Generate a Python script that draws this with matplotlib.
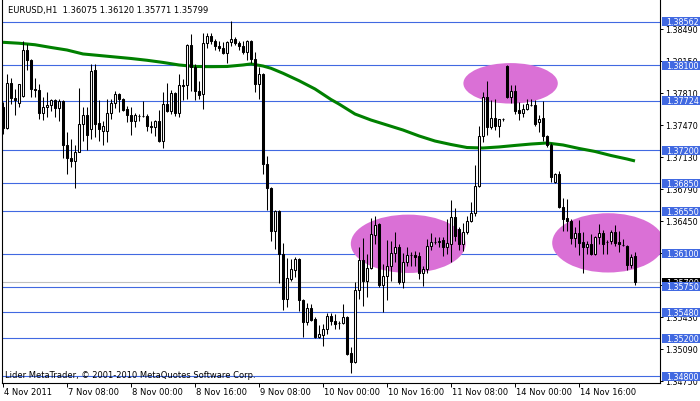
import matplotlib
matplotlib.use('Agg')
import matplotlib.pyplot as plt
from matplotlib.patches import Ellipse, Rectangle
from matplotlib.transforms import blended_transform_factory
import numpy as np

# EURUSD H1 bars, 4 Nov 2011 16:00 onwards
opens = [1.3766, 1.3744, 1.3791, 1.3775, 1.3770, 1.3778, 1.3826, 1.3816, 1.3785, 1.3784,
         1.3759, 1.3766, 1.3768, 1.3773, 1.3765, 1.3772, 1.3725, 1.3712, 1.3708, 1.3718,
         1.3748, 1.3757, 1.3742, 1.3805, 1.3749, 1.3740, 1.3740, 1.3760, 1.3770, 1.3780,
         1.3774, 1.3764, 1.3757, 1.3751, 1.3756, 1.3756, 1.3756, 1.3746, 1.3745, 1.3751,
         1.3730, 1.3769, 1.3762, 1.3781, 1.3760, 1.3789, 1.3789, 1.3832, 1.3808, 1.3783,
         1.3780, 1.3834, 1.3841, 1.3836, 1.3831, 1.3829, 1.3823, 1.3835, 1.3838, 1.3834,
         1.3831, 1.3824, 1.3836, 1.3817, 1.3790, 1.3801, 1.3705, 1.3680, 1.3634, 1.3655,
         1.3610, 1.3562, 1.3583, 1.3593, 1.3604, 1.3561, 1.3537, 1.3552, 1.3541, 1.3522,
         1.3524, 1.3530, 1.3544, 1.3538, 1.3536, 1.3536, 1.3543, 1.3504, 1.3495, 1.3571,
         1.3603, 1.3581, 1.3595, 1.3630, 1.3642, 1.3577, 1.3586, 1.3597, 1.3611, 1.3617,
         1.3580, 1.3601, 1.3609, 1.3609, 1.3608, 1.3589, 1.3594, 1.3618, 1.3622, 1.3622,
         1.3625, 1.3617, 1.3620, 1.3649, 1.3636, 1.3620, 1.3633, 1.3645, 1.3653, 1.3682,
         1.3735, 1.3776, 1.3745, 1.3754, 1.3746, 1.3753, 1.3809, 1.3776, 1.3783, 1.3763,
         1.3759, 1.3764, 1.3768, 1.3768, 1.3750, 1.3754, 1.3735, 1.3726, 1.3686, 1.3695,
         1.3660, 1.3648, 1.3645, 1.3627, 1.3632, 1.3622, 1.3617, 1.3620, 1.3610, 1.3628,
         1.3632, 1.3622, 1.3623, 1.3633, 1.3622, 1.3619, 1.3618, 1.3598, 1.36075]
highs = [1.3771, 1.3801, 1.3797, 1.3785, 1.3790, 1.3836, 1.3833, 1.3817, 1.3797, 1.3790,
         1.3776, 1.3782, 1.3774, 1.3774, 1.3774, 1.3773, 1.3739, 1.3732, 1.3725, 1.3786,
         1.3766, 1.3766, 1.3812, 1.3812, 1.3773, 1.3751, 1.3774, 1.3774, 1.3783, 1.3781,
         1.3775, 1.3767, 1.3766, 1.3760, 1.3758, 1.3772, 1.3758, 1.3751, 1.3752, 1.3763,
         1.3782, 1.3791, 1.3784, 1.3782, 1.3801, 1.3796, 1.3833, 1.3843, 1.3812, 1.3794,
         1.3845, 1.3845, 1.3844, 1.3838, 1.3836, 1.3835, 1.3836, 1.3857, 1.3840, 1.3836,
         1.3836, 1.3837, 1.3837, 1.3824, 1.3808, 1.3802, 1.3714, 1.3681, 1.3656, 1.3656,
         1.3621, 1.3605, 1.3604, 1.3606, 1.3605, 1.3562, 1.3558, 1.3557, 1.3543, 1.3534,
         1.3535, 1.3547, 1.3547, 1.3546, 1.3539, 1.3557, 1.3544, 1.3511, 1.3580, 1.3617,
         1.3627, 1.3610, 1.3648, 1.3650, 1.3643, 1.3599, 1.3625, 1.3624, 1.3633, 1.3620,
         1.3611, 1.3617, 1.3612, 1.3613, 1.3612, 1.3597, 1.3626, 1.3632, 1.3628, 1.3628,
         1.3628, 1.3647, 1.3667, 1.3659, 1.3638, 1.3643, 1.3650, 1.3665, 1.3704, 1.3746,
         1.3782, 1.3794, 1.3773, 1.3774, 1.3753, 1.3754, 1.3810, 1.3789, 1.3789, 1.3771,
         1.3769, 1.3774, 1.3774, 1.3773, 1.3757, 1.3772, 1.3736, 1.3728, 1.3696, 1.3698,
         1.3669, 1.3668, 1.3647, 1.3638, 1.3646, 1.3633, 1.3623, 1.3631, 1.3629, 1.3642,
         1.3635, 1.3625, 1.3635, 1.3640, 1.3634, 1.3626, 1.3619, 1.3610, 1.36120]
lows = [1.3737, 1.3743, 1.3769, 1.3757, 1.3766, 1.3776, 1.3805, 1.3776, 1.3776, 1.3753,
        1.3752, 1.3755, 1.3762, 1.3755, 1.3751, 1.3712, 1.3695, 1.3702, 1.3680, 1.3718,
        1.3730, 1.3720, 1.3732, 1.3734, 1.3730, 1.3725, 1.3729, 1.3753, 1.3765, 1.3761,
        1.3762, 1.3750, 1.3736, 1.3745, 1.3751, 1.3755, 1.3740, 1.3738, 1.3735, 1.3729,
        1.3722, 1.3761, 1.3758, 1.3756, 1.3755, 1.3773, 1.3774, 1.3783, 1.3773, 1.3774,
        1.3764, 1.3829, 1.3833, 1.3826, 1.3825, 1.3822, 1.3813, 1.3831, 1.3832, 1.3826,
        1.3822, 1.3816, 1.3813, 1.3782, 1.3774, 1.3695, 1.3656, 1.3624, 1.3615, 1.3579,
        1.3550, 1.3553, 1.3581, 1.3585, 1.3549, 1.3522, 1.3534, 1.3538, 1.3520, 1.3520,
        1.3512, 1.3525, 1.3534, 1.3530, 1.3530, 1.3535, 1.3502, 1.3483, 1.3494, 1.3562,
        1.3554, 1.3564, 1.3594, 1.3620, 1.3575, 1.3548, 1.3561, 1.3581, 1.3601, 1.3578,
        1.3574, 1.3597, 1.3597, 1.3597, 1.3583, 1.3576, 1.3590, 1.3614, 1.3620, 1.3617,
        1.3608, 1.3610, 1.3601, 1.3624, 1.3614, 1.3613, 1.3631, 1.3644, 1.3650, 1.3681,
        1.3729, 1.3736, 1.3742, 1.3741, 1.3734, 1.3751, 1.3775, 1.3770, 1.3758, 1.3752,
        1.3755, 1.3763, 1.3767, 1.3746, 1.3739, 1.3730, 1.3723, 1.3686, 1.3685, 1.3659,
        1.3634, 1.3634, 1.3620, 1.3617, 1.3609, 1.3590, 1.3610, 1.3609, 1.3609, 1.3620,
        1.3610, 1.3610, 1.3620, 1.3618, 1.3612, 1.3618, 1.3593, 1.3595, 1.35771]
closes = [1.3744, 1.3791, 1.3775, 1.3773, 1.3790, 1.3826, 1.3816, 1.3785, 1.3784, 1.3759,
          1.3766, 1.3768, 1.3773, 1.3765, 1.3772, 1.3725, 1.3712, 1.3708, 1.3718, 1.3748,
          1.3757, 1.3736, 1.3804, 1.3748, 1.3742, 1.3746, 1.3760, 1.3770, 1.3780, 1.3774,
          1.3763, 1.3757, 1.3751, 1.3757, 1.3756, 1.3756, 1.3746, 1.3745, 1.3751, 1.3730,
          1.3769, 1.3762, 1.3781, 1.3760, 1.3789, 1.3788, 1.3832, 1.3808, 1.3783, 1.3779,
          1.3834, 1.3841, 1.3836, 1.3831, 1.3829, 1.3823, 1.3835, 1.3838, 1.3834, 1.3831,
          1.3824, 1.3836, 1.3817, 1.3790, 1.3801, 1.3705, 1.3680, 1.3634, 1.3655, 1.3610,
          1.3562, 1.3584, 1.3594, 1.3604, 1.3561, 1.3537, 1.3552, 1.3540, 1.3522, 1.3525,
          1.3530, 1.3544, 1.3538, 1.3535, 1.3536, 1.3543, 1.3503, 1.3495, 1.3571, 1.3603,
          1.3581, 1.3595, 1.3631, 1.3641, 1.3577, 1.3586, 1.3597, 1.3611, 1.3617, 1.3580,
          1.3601, 1.3609, 1.3609, 1.3607, 1.3589, 1.3594, 1.3618, 1.3622, 1.3622, 1.3624,
          1.3617, 1.3621, 1.3649, 1.3629, 1.3620, 1.3633, 1.3645, 1.3653, 1.3682, 1.3735,
          1.3776, 1.3745, 1.3754, 1.3746, 1.3753, 1.3753, 1.3776, 1.3783, 1.3762, 1.3759,
          1.3764, 1.3769, 1.3768, 1.3748, 1.3753, 1.3735, 1.3726, 1.3691, 1.3695, 1.3660,
          1.3647, 1.3645, 1.3627, 1.3632, 1.3621, 1.3617, 1.3620, 1.3610, 1.3628, 1.3632,
          1.3620, 1.3622, 1.3633, 1.3621, 1.3620, 1.3619, 1.3598, 1.3607, 1.35799]

# moving average, read every few bars
ma_bars = [0, 4, 8, 12, 16, 20, 24, 28, 32, 36, 40, 44, 48, 52, 56, 60, 62, 65, 67, 70,
           74, 78, 82, 84, 88, 92, 96, 100, 104, 108, 112, 116, 120, 124, 128, 132, 136,
           140, 144, 148, 152, 156, 158]
ma_vals = [1.38346, 1.38336, 1.38320, 1.38291, 1.38264, 1.38222, 1.38206, 1.38190, 1.38174,
           1.38155, 1.38132, 1.38105, 1.38089, 1.38087, 1.38089, 1.38105, 1.38116, 1.38094,
           1.38070, 1.38017, 1.37938, 1.37850, 1.37738, 1.37690, 1.37584, 1.37520, 1.37467,
           1.37414, 1.37351, 1.37297, 1.37260, 1.37228, 1.37223, 1.37234, 1.37250, 1.37265,
           1.37276, 1.37255, 1.37218, 1.37186, 1.37143, 1.37106, 1.37085]

levels = [1.38562, 1.38100, 1.37724, 1.37200, 1.36850, 1.36550, 1.36100, 1.35750,
          1.35480, 1.35200, 1.34800]
bid = 1.35799
price_ticks = [1.38490, 1.38150, 1.37810, 1.37470, 1.37130, 1.36790, 1.36450, 1.36110,
               1.35770, 1.35430, 1.35090, 1.34750]
time_ticks = [0, 16, 32, 48, 64, 80, 96, 112, 128, 144]
time_labels = ['4 Nov 2011', '7 Nov 08:00', '8 Nov 00:00', '8 Nov 16:00', '9 Nov 08:00',
               '10 Nov 00:00', '10 Nov 16:00', '11 Nov 08:00', '14 Nov 00:00', '14 Nov 16:00']

# ellipses: (bar centre, price centre, width in bars, height in price)
ellipses = [(126.9, 1.37910, 23.6, 0.00430),
            (101.3, 1.36205, 28.7, 0.00620),
            (151.3, 1.36215, 28.0, 0.00630)]

plt.rcParams['font.family'] = 'DejaVu Sans'
fs = 6.0
fs_scale = 5.8
blue = '#4169E1'

fig = plt.figure(figsize=(7, 4.02), dpi=100)
ax = fig.add_axes([2 / 700, 18 / 402, 658 / 700, 384 / 402])
ax.set_xlim(-0.25, 164.25)
ax.set_ylim(1.34726, 1.38806)
px = (1.38806 - 1.34726) / 384.0  # price per pixel

for lv in levels:
    ax.axhline(lv, color=blue, lw=0.8, zorder=1)
ax.axhline(bid, color='#C0C0C0', lw=0.8, zorder=1)

for bx, by, bw, bh in ellipses:
    ax.add_patch(Ellipse((bx, by), bw, bh, facecolor='#DA70D6', edgecolor='none', zorder=2))

ax.plot(ma_bars, ma_vals, color='#008000', lw=2.2, zorder=3, solid_capstyle='butt')

o = np.array(opens)
c = np.array(closes)
idx = np.arange(len(o))
ax.vlines(idx, lows, highs, color='black', lw=0.75, zorder=4)
body_col = ['white' if cc >= oo else 'black' for oo, cc in zip(o, c)]
ax.bar(idx, np.abs(c - o), bottom=np.minimum(o, c), width=0.5, color=body_col,
       edgecolor='black', linewidth=0.75, zorder=5)

for s in ['left', 'right', 'bottom']:
    ax.spines[s].set_linewidth(0.8)
ax.spines['top'].set_visible(False)

ax.yaxis.tick_right()
ax.set_yticks(price_ticks)
ax.set_yticklabels(['%.5f' % v for v in price_ticks])
ax.tick_params(axis='y', length=2.2, width=0.7, pad=1.5, labelsize=fs_scale)
ax.set_xticks(time_ticks)
ax.set_xticklabels([''] * len(time_ticks))
ax.tick_params(axis='x', length=3, width=0.7)

tr_x = blended_transform_factory(ax.transData, fig.transFigure)
for t, lab in zip(time_ticks, time_labels):
    fig.text(t + 0.3, 1 - 393 / 402, lab, transform=tr_x, ha='left', va='center', fontsize=fs)

# price labels on the right scale
tr_y = blended_transform_factory(fig.transFigure, ax.transData)
fig.add_artist(Rectangle((662 / 700, bid - 4.5 * px), 38 / 700, 9 * px, transform=tr_y,
                         facecolor='black', edgecolor='none', zorder=9))
fig.text(666 / 700, bid, '%.5f' % bid, transform=tr_y, color='white', ha='left',
         va='center', fontsize=fs_scale, zorder=9.5)
for lv in levels:
    fig.add_artist(Rectangle((662 / 700, lv - 4.5 * px), 38 / 700, 9 * px, transform=tr_y,
                             facecolor=blue, edgecolor='none', zorder=10))
    fig.text(666 / 700, lv, '%.5f' % lv, transform=tr_y, color='white', ha='left',
             va='center', fontsize=fs_scale, zorder=11)

fig.text(8 / 700, 1 - 11 / 402, 'EURUSD,H1  1.36075 1.36120 1.35771 1.35799',
         ha='left', va='center', fontsize=fs)
fig.text(5 / 700, 1 - 376 / 402, 'Lider MetaTrader, \u00a9 2001-2010 MetaQuotes Software Corp.',
         ha='left', va='center', fontsize=fs, zorder=12)

fig.savefig('out.png', dpi=100, facecolor='white')
